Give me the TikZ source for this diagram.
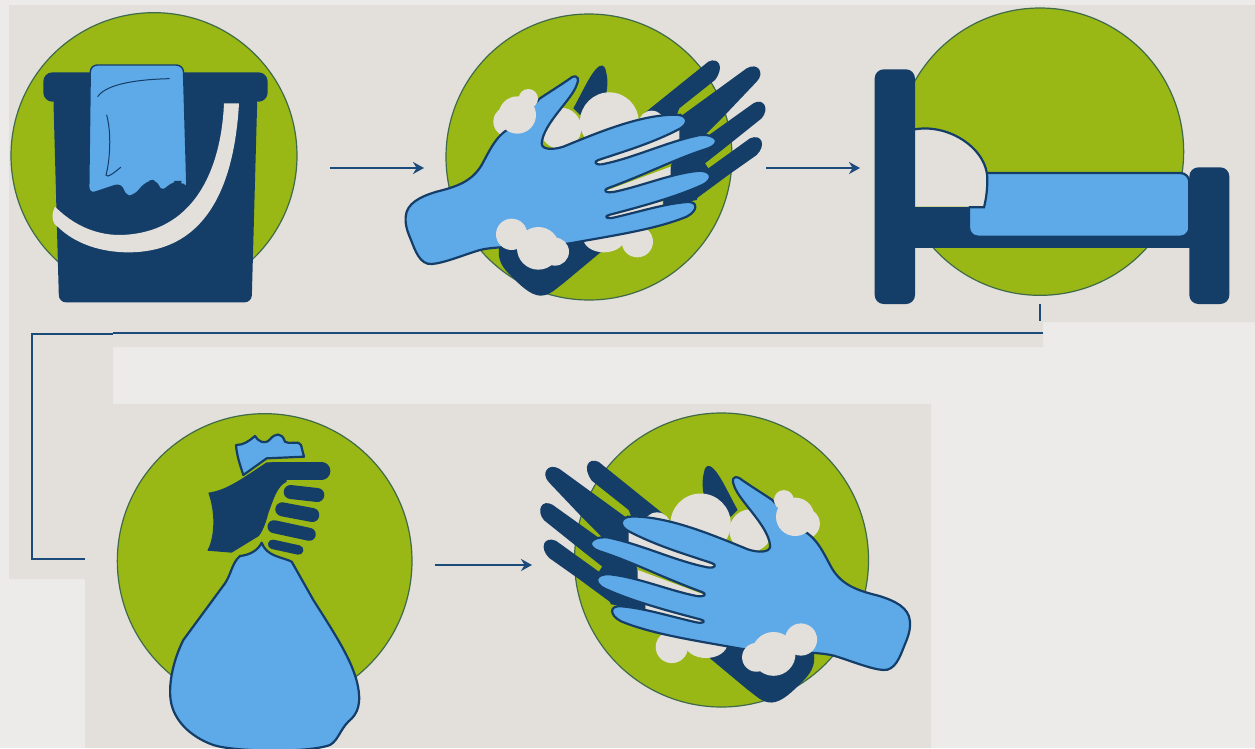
\documentclass[tikz,border=0pt]{standalone}
\usetikzlibrary{arrows.meta}
\definecolor{pagebg}{HTML}{ECEBEA}
\definecolor{beige}{HTML}{E3DFDB}
\definecolor{leaf}{HTML}{99B816}
\definecolor{leafline}{HTML}{3F6B4A}
\definecolor{navy}{HTML}{143E68}
\definecolor{sky}{HTML}{5EA9E8}
\definecolor{wire}{HTML}{1B4B7A}
\tikzset{
  disc/.style={fill=leaf,draw=leafline,line width=1.2pt},
  dark/.style={fill=navy},
  glove/.style={fill=sky,draw=navy,line width=2.2pt,line join=round},
  foam/.style={fill=beige},
  crease/.style={draw=navy,line width=1pt,line cap=round},
  wireline/.style={draw=wire,line width=2.2pt},
  flow/.style={wireline,-{Stealth[length=11pt,width=12pt]}},
  knuckle/.style={draw=navy,line cap=round}
}
\newcommand{\handicon}{%
  \path[disc] (567,471) circle [radius=429];
  % back hand
  \fill[dark] (735,338) -- (925,185) .. controls (955,170) and (975,200) .. (945,240) -- (838,325) -- (820,370) -- cycle;
  \fill[dark] (845,347) -- (1040,205) .. controls (1075,185) and (1095,220) .. (1070,245) -- (975,345) -- (900,420) -- cycle;
  \fill[dark] (920,410) -- (1060,310) .. controls (1090,292) and (1110,325) .. (1085,355) -- (985,435) -- (915,490) -- cycle;
  \fill[dark] (925,505) -- (1050,415) .. controls (1085,400) and (1100,435) .. (1070,465) -- (985,525) -- (890,595) -- (790,620) -- (800,520) -- cycle;
  \fill[dark] (840,340) -- (925,410) -- (915,490) -- (925,505) -- (890,600) -- (790,620) -- (790,590) -- (815,490) -- (838,385) -- cycle;
  \fill[dark] (520,325) .. controls (550,270) and (570,225) .. (590,205) .. controls (605,190) and (615,195) .. (618,215) .. controls (625,240) and (622,265) .. (618,285) -- (540,345) -- cycle;
  \fill[dark] (300,730) .. controls (290,770) and (300,795) .. (330,825) .. controls (360,855) and (390,885) .. (420,887) .. controls (450,887) and (465,868) .. (490,850) -- (610,750) -- (560,715) -- cycle;
  % foam behind the hand
  \fill[foam] (628,365) circle [radius=88];
  \fill[foam] (482,385) circle [radius=62];
  \fill[foam] (755,372) circle [radius=40];
  \fill[foam] (325,365) circle [radius=45];
  \fill[foam] (612,715) ellipse [x radius=62,y radius=42];
  \fill[foam] (712,725) circle [radius=47];
  \fill[foam] (580,490) -- (838,385) -- (838,425) -- (700,480) -- (580,510) -- cycle;
  \fill[foam] (610,575) -- (812,500) -- (812,530) -- (700,565) -- (610,585) -- cycle;
  \fill[foam] (615,650) -- (788,596) -- (788,618) -- (700,640) -- (615,660) -- cycle;
  % glove
  \path[glove] (17,650)
    .. controls (20,610) and (60,590) .. (110,575)
    .. controls (170,560) and (215,545) .. (245,495)
    .. controls (270,450) and (290,400) .. (340,380)
    -- (420,295) .. controls (450,275) and (490,250) .. (515,232)
    .. controls (535,222) and (538,240) .. (530,255)
    .. controls (515,300) and (430,370) .. (425,430)
    .. controls (425,450) and (460,450) .. (490,440)
    .. controls (600,395) and (720,345) .. (825,344)
    .. controls (865,343) and (868,372) .. (838,387)
    .. controls (760,428) and (680,452) .. (595,480)
    .. controls (580,485) and (585,495) .. (605,493)
    .. controls (700,475) and (800,425) .. (900,405)
    .. controls (955,402) and (962,432) .. (925,445)
    .. controls (830,475) and (740,522) .. (625,564)
    .. controls (605,572) and (620,580) .. (640,576)
    .. controls (720,560) and (810,522) .. (890,513)
    .. controls (935,508) and (945,538) .. (905,556)
    .. controls (830,590) and (730,618) .. (630,644)
    .. controls (608,650) and (620,657) .. (640,653)
    .. controls (720,635) and (790,612) .. (860,606)
    .. controls (895,603) and (895,632) .. (860,650)
    .. controls (770,687) and (650,705) .. (510,730)
    .. controls (400,745) and (300,735) .. (240,750)
    .. controls (190,765) and (130,790) .. (95,792)
    .. controls (60,795) and (45,750) .. (35,725)
    .. controls (25,700) and (15,680) .. (17,650) -- cycle;
  % foam on the hand
  \fill[foam] (352,345) circle [radius=56];
  \fill[foam] (385,296) circle [radius=29];
  \fill[foam] (335,703) circle [radius=47];
  \fill[foam] (415,745) circle [radius=64];
  \fill[foam] (465,755) circle [radius=42];
}
\begin{document}
\begin{tikzpicture}[x=1pt,y=-1pt]
\clip (0,0) rectangle (1255,748);
\fill[pagebg] (0,0) rectangle (1255,748);
\fill[beige] (9,5) -- (1255,5) -- (1255,322) -- (1043,322) -- (1043,347) -- (113,347) -- (113,404)
  -- (931,404) -- (931,748) -- (85,748) -- (85,579) -- (9,579) -- cycle;

% ---------- bucket ----------
\begin{scope}[x=.33333pt,y=-.33333pt]
  \path[disc] (462,467) circle [radius=429];
  \fill[dark] [rounded corners=7pt] (160,290) -- (177,907) -- (755,907) -- (772,290) -- cycle;
  \fill[dark] [rounded corners=9pt] (130,217) rectangle (803,305);
  \fill[foam] (672,310) .. controls (665,480) and (600,700) .. (360,705)
    .. controls (280,705) and (215,670) .. (165,620)
    .. controls (150,650) and (160,675) .. (175,682)
    .. controls (230,735) and (310,757) .. (385,757)
    .. controls (640,757) and (705,520) .. (717,310) -- cycle;
  \path[glove,line width=1.4pt,rounded corners=7pt] (266,583) -- (271,195) -- (550,195) -- (561,570)
    -- (545,545) -- (522,545) -- (482,578) -- (470,540) -- (440,545) -- (400,590) -- (375,590) -- (365,550) -- cycle;
  \path[crease] (293,290) .. controls (320,250) and (420,238) .. (508,236);
  \path[crease] (320,345) .. controls (335,400) and (330,480) .. (318,525) .. controls (322,535) and (340,520) .. (362,502);
\end{scope}

% ---------- first pair of hands ----------
\begin{scope}[xshift=400pt,x=.33333pt,y=-.33333pt]
  \handicon
\end{scope}

% ---------- bed ----------
\begin{scope}[xshift=860pt,x=.33333pt,y=-.33333pt]
  \path[disc] (540,455) circle [radius=431];
  \fill[dark] (165,620) rectangle (990,745);
  \path[glove,rounded corners=9pt] (327,519) rectangle (988,710);
  \fill[foam] (165,390) .. controls (270,370) and (385,450) .. (382,540) .. controls (382,580) and (375,610) .. (372,620) -- (165,620) -- cycle;
  \draw[navy,line width=2.2pt] (165,388) .. controls (270,370) and (385,450) .. (382,540) .. controls (382,580) and (375,610) .. (372,622) -- (327,622);
  \fill[dark] [rounded corners=9pt] (44,208) rectangle (165,912);
  \fill[dark] [rounded corners=9pt] (988,502) rectangle (1108,912);
\end{scope}

% ---------- bag ----------
\begin{scope}[xshift=100pt,yshift=-400pt,x=.33333pt,y=-.33333pt]
  \path[disc] (494,483) circle [radius=442];
  \path[glove] (420,468) .. controls (395,490) and (395,520) .. (375,550)
    -- (250,720) .. controls (220,780) and (205,850) .. (212,900)
    .. controls (220,960) and (270,1010) .. (340,1035)
    .. controls (400,1055) and (620,1060) .. (690,1035)
    .. controls (715,1020) and (720,990) .. (745,965)
    .. controls (775,940) and (785,910) .. (772,850)
    .. controls (755,780) and (710,710) .. (640,600)
    -- (575,485) .. controls (545,470) and (500,470) .. (485,428)
    .. controls (475,450) and (450,465) .. (420,468) -- cycle;
  \path[glove] (408,135) .. controls (430,135) and (445,125) .. (465,108)
    .. controls (475,125) and (495,135) .. (510,118) .. controls (525,100) and (545,95) .. (555,125)
    .. controls (575,135) and (595,120) .. (603,135) -- (612,170) -- (500,175) -- (430,225)
    .. controls (420,195) and (410,165) .. (408,135) -- cycle;
  \fill[dark] (325,278) .. controls (380,270) and (420,240) .. (500,187) -- (560,187) -- (560,245)
    .. controls (530,260) and (520,300) .. (505,340) .. controls (495,380) and (480,410) .. (470,412)
    -- (395,458) -- (322,452) .. controls (340,420) and (350,350) .. (325,278) -- cycle;
  \draw[knuckle,line width=17.5pt] (520,213) -- (665,213);
  \draw[knuckle,line width=14pt] (572,276) -- (652,285);
  \draw[knuckle,line width=14pt] (547,328) -- (637,345);
  \draw[knuckle,line width=13pt] (522,380) -- (628,403);
  \draw[knuckle,line width=9.5pt] (518,433) -- (596,450);
\end{scope}

% ---------- second pair of hands (mirrored) ----------
\begin{scope}[xshift=915.8pt,yshift=-398.6pt,x=-.34267pt,y=-.34267pt]
  \handicon
\end{scope}

% ---------- connectors ----------
\coordinate (a1) at (330,168); \coordinate (a2) at (424,168);
\coordinate (b1) at (766,168); \coordinate (b2) at (860,168);
\coordinate (c1) at (435,565); \coordinate (c2) at (532,565);
\coordinate (t1) at (1040,304); \coordinate (t2) at (1040,321);
\coordinate (h1) at (1043,333); \coordinate (h2) at (113,333);
\coordinate (j1) at (113,334); \coordinate (j2) at (32,334);
\coordinate (j3) at (32,559); \coordinate (j4) at (85,559);
\draw[flow] (a1) -- (a2);
\draw[flow] (b1) -- (b2);
\draw[flow] (c1) -- (c2);
\draw[wireline] (t1) -- (t2);
\draw[wireline] (h1) -- (h2);
\draw[wireline] (j1) -- (j2) -- (j3) -- (j4);
\end{tikzpicture}
\end{document}
